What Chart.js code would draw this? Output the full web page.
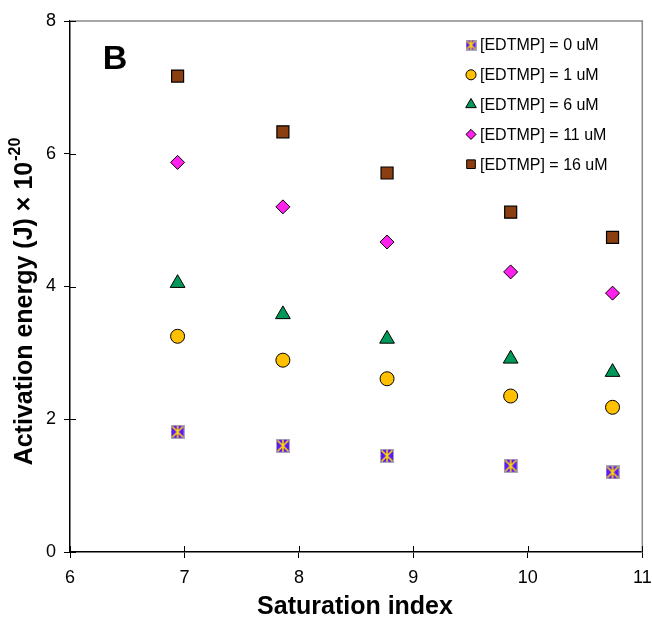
<!DOCTYPE html>
<html>
<head>
<meta charset="utf-8">
<script src="https://cdn.jsdelivr.net/npm/chart.js@4"></script>
<style>
  body { margin: 0; background: #fff; }
  #wrap { width: 652px; height: 621px; }
</style>
</head>
<body>
<div id="wrap"><canvas id="chart" width="652" height="621"></canvas></div>
<script>
// --- data ---
const saturation = [6.94, 7.86, 8.77, 9.85, 10.74];
const edtmp0  = [1.81, 1.60, 1.45, 1.30, 1.20];
const edtmp1  = [3.25, 2.89, 2.61, 2.35, 2.18];
const edtmp6  = [4.05, 3.58, 3.21, 2.91, 2.71];
const edtmp11 = [5.87, 5.20, 4.67, 4.22, 3.90];
const edtmp16 = [7.17, 6.33, 5.71, 5.12, 4.74];
const seriesLabels = ["[EDTMP] = 0 uM", "[EDTMP] = 1 uM", "[EDTMP] = 6 uM", "[EDTMP] = 11 uM", "[EDTMP] = 16 uM"];
const xTicks = [6, 7, 8, 9, 10, 11];
const yTicks = [0, 2, 4, 6, 8];

const FONT = "'Liberation Sans', Arial, sans-serif";

// purple square with yellow star for 0 uM
function starSquare(n) {
  const c = document.createElement("canvas");
  c.width = n; c.height = n;
  const g = c.getContext("2d");
  g.fillStyle = "#5b18ff";
  g.fillRect(0, 0, n, n);
  g.strokeStyle = "#a8a8b8";
  g.lineWidth = 1;
  g.strokeRect(0.5, 0.5, n - 1, n - 1);
  g.strokeStyle = "#ffd800";
  g.lineWidth = 1.6;
  g.beginPath();
  g.moveTo(1.5, 1.5); g.lineTo(n - 1.5, n - 1.5);
  g.moveTo(n - 1.5, 1.5); g.lineTo(1.5, n - 1.5);
  g.moveTo(n / 2, 1); g.lineTo(n / 2, n - 1);
  g.stroke();
  return c;
}
const starImg = starSquare(14);
const starSmall = starSquare(11);

function pts(ys) {
  return ys.map((y, i) => ({ x: saturation[i], y }));
}

const datasets = [
  { label: seriesLabels[0], data: pts(edtmp0), pointStyle: starImg, legendStyle: starSmall, radius: 7, backgroundColor: "#5b18ff", borderColor: "#000" },
  { label: seriesLabels[1], data: pts(edtmp1), pointStyle: "circle", radius: 7, backgroundColor: "#ffc000", borderColor: "#000", borderWidth: 1 },
  { label: seriesLabels[2], data: pts(edtmp6), pointStyle: "triangle", radius: 8.5, backgroundColor: "#00995a", borderColor: "#000", borderWidth: 1 },
  { label: seriesLabels[3], data: pts(edtmp11), pointStyle: "rectRot", radius: 7, backgroundColor: "#ff22ee", borderColor: "#000", borderWidth: 1 },
  { label: seriesLabels[4], data: pts(edtmp16), pointStyle: "rect", radius: 8.5, backgroundColor: "#8b3e0f", borderColor: "#000", borderWidth: 1.2 }
];

// --- frame, inner ticks, titles, panel letter and legend ---
const decor = {
  id: "decor",
  afterDraw(chart) {
    const ctx = chart.ctx;
    const a = chart.chartArea;
    const xs = chart.scales.x, ys = chart.scales.y;
    ctx.save();
    // top / right frame
    ctx.strokeStyle = "#8a8a8a";
    ctx.lineWidth = 1.5;
    ctx.beginPath();
    ctx.moveTo(a.left, a.top); ctx.lineTo(a.right, a.top); ctx.lineTo(a.right, a.bottom);
    ctx.stroke();
    // inner tick halves
    ctx.strokeStyle = "#000";
    ctx.lineWidth = 1;
    ctx.beginPath();
    xTicks.forEach(v => { const p = Math.round(xs.getPixelForValue(v)) + 0.5; ctx.moveTo(p, a.bottom); ctx.lineTo(p, a.bottom - 6); });
    yTicks.forEach(v => { const p = Math.round(ys.getPixelForValue(v)) + 0.5; ctx.moveTo(a.left, p); ctx.lineTo(a.left + 6, p); });
    ctx.stroke();

    // axis titles
    ctx.fillStyle = "#000";
    ctx.textBaseline = "middle";
    ctx.textAlign = "center";
    ctx.font = "bold 25px " + FONT;
    ctx.fillText("Saturation index", 355, 607);

    ctx.save();
    ctx.translate(25, 302);
    ctx.rotate(-Math.PI / 2);
    const main = "Activation energy (J) × 10";
    ctx.font = "bold 25px " + FONT;
    const w1 = ctx.measureText(main).width;
    ctx.font = "bold 16px " + FONT;
    const w2 = ctx.measureText("-20").width;
    const start = -(w1 + w2) / 2;
    ctx.textAlign = "left";
    ctx.font = "bold 25px " + FONT;
    ctx.fillText(main, start, 0);
    ctx.font = "bold 16px " + FONT;
    ctx.fillText("-20", start + w1 + 1, -9);
    ctx.restore();

    // panel letter
    ctx.font = "bold 34px " + FONT;
    ctx.textAlign = "center";
    ctx.fillText("B", 115, 60);

    // legend
    ctx.font = "16px " + FONT;
    chart.data.datasets.forEach((ds, i) => {
      const y = 45 + i * 29.8;
      ctx.fillStyle = ds.backgroundColor;
      ctx.strokeStyle = ds.borderColor;
      ctx.lineWidth = 1;
      Chart.helpers.drawPoint(ctx, {
        pointStyle: ds.legendStyle || ds.pointStyle,
        radius: ds.radius * 0.72,
        borderWidth: 1,
        rotation: 0
      }, 471, y);
      ctx.fillStyle = "#000";
      ctx.textAlign = "left";
      ctx.fillText(ds.label, 480, y + 1);
    });
    ctx.restore();
  }
};

new Chart(document.getElementById("chart"), {
  type: "scatter",
  data: { datasets },
  plugins: [decor],
  options: {
    responsive: false,
    animation: false,
    layout: { padding: { top: 21, right: 9, left: 0, bottom: 0 } },
    plugins: { legend: { display: false }, tooltip: { enabled: false } },
    scales: {
      x: {
        type: "linear", min: 6, max: 11,
        afterFit(s) { s.height = 69; s.paddingLeft = 0; s.paddingRight = 0; },
        afterBuildTicks(s) { s.ticks = xTicks.map(v => ({ value: v })); },
        border: { color: "#000", width: 1.5 },
        grid: { drawOnChartArea: false, drawTicks: true, tickLength: 6, color: "#000" },
        ticks: { color: "#000", font: { family: FONT, size: 18 }, padding: 9 }
      },
      y: {
        type: "linear", min: 0, max: 8,
        afterFit(s) { s.width = 70; s.paddingTop = 0; s.paddingBottom = 0; },
        afterBuildTicks(s) { s.ticks = yTicks.map(v => ({ value: v })); },
        border: { color: "#000", width: 1.5 },
        grid: { drawOnChartArea: false, drawTicks: true, tickLength: 6, color: "#000" },
        ticks: { color: "#000", font: { family: FONT, size: 18 }, padding: 8 }
      }
    }
  }
});
</script>
</body>
</html>
